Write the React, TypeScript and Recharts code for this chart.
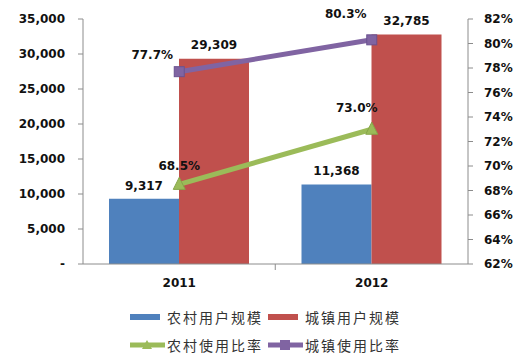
import { ComposedChart, Bar, Line, XAxis, YAxis, LabelList } from 'recharts';

const years = ['2011', '2012'];
const ruralUsers = [9317, 11368];
const urbanUsers = [29309, 32785];
const ruralRate = [68.5, 73.0];
const urbanRate = [77.7, 80.3];
const leftTicks = [0, 5000, 10000, 15000, 20000, 25000, 30000, 35000];
const rightTicks = [62, 64, 66, 68, 70, 72, 74, 76, 78, 80, 82];

const data = years.map((year, i) => ({
  year,
  rural: ruralUsers[i],
  urban: urbanUsers[i],
  ruralRate: ruralRate[i],
  urbanRate: urbanRate[i],
}));

const BLUE = '#4F81BD';
const RED = '#C0504D';
const GREEN = '#9BBB59';
const PURPLE = '#8064A2';
const AXIS = '#8c8c8c';
const FONT = '"DejaVu Sans", Verdana, sans-serif';

const fmtNum = (v: number) => (v === 0 ? '-' : v.toLocaleString('en-US'));

const lineLabel = (offsets: number[][]) => (props: any) => {
  const { x, y, value, index } = props;
  const [dx, dy] = offsets[index] || [0, -14];
  return (
    <text x={x + dx} y={y + dy} textAnchor="middle" fontFamily={FONT} fontSize={12} fontWeight="bold" fill="#111">
      {Number(value).toFixed(1)}%
    </text>
  );
};

const SquareDot = (props: any) => {
  const { cx, cy } = props;
  if (cx == null || cy == null) return null;
  return <rect x={cx - 5} y={cy - 5} width={10} height={10} fill={PURPLE} stroke="#6a5290" strokeWidth={1} />;
};

const TriangleDot = (props: any) => {
  const { cx, cy } = props;
  if (cx == null || cy == null) return null;
  return <polygon points={`${cx},${cy - 7} ${cx - 6},${cy + 5} ${cx + 6},${cy + 5}`} fill={GREEN} stroke="#86a548" strokeWidth={1} />;
};

const YearTick = (props: any) => {
  const { x, y, payload, index } = props;
  return (
    <g>
      {index === 0 && <line x1={x + 96} y1={y - 8} x2={x + 96} y2={y - 2} stroke={AXIS} />}
      <text x={x} y={y + 15} textAnchor="middle" fontFamily={FONT} fontSize={12} fontWeight="bold" fill="#111">
        {payload.value}
      </text>
    </g>
  );
};

const legendText = { fontFamily: '"Noto Sans CJK SC", sans-serif', fontSize: 14, letterSpacing: 2, color: '#333' };

const ChartLegend = () => (
  <div style={{ position: 'absolute', left: 130, top: 304, width: 300 }}>
    <div style={{ display: 'flex', alignItems: 'center', height: 26 }}>
      <div style={{ width: 30, height: 6, background: BLUE, marginRight: 7 }} />
      <span style={{ ...legendText, width: 101 }}>农村用户规模</span>
      <div style={{ width: 30, height: 6, background: RED, marginRight: 7 }} />
      <span style={legendText}>城镇用户规模</span>
    </div>
    <div style={{ display: 'flex', alignItems: 'center', height: 30 }}>
      <svg width={35} height={12} style={{ marginRight: 2 }}>
        <line x1={0} y1={6} x2={35} y2={6} stroke={GREEN} strokeWidth={5} />
        <polygon points="17,1 12,10 22,10" fill={GREEN} />
      </svg>
      <span style={{ ...legendText, width: 101 }}>农村使用比率</span>
      <svg width={35} height={12} style={{ marginRight: 2 }}>
        <line x1={0} y1={6} x2={35} y2={6} stroke={PURPLE} strokeWidth={5} />
        <rect x={12} y={1} width={10} height={10} fill={PURPLE} />
      </svg>
      <span style={legendText}>城镇使用比率</span>
    </div>
  </div>
);

export default function App() {
  return (
    <div style={{ position: 'absolute', left: 0, top: 0, width: 524, height: 364, background: '#fff' }}>
      <ComposedChart
        width={524}
        height={364}
        data={data}
        margin={{ top: 19, right: 0, left: 0, bottom: 70 }}
        barGap={0}
      >
        <XAxis
          dataKey="year"
          height={30}
          stroke={AXIS}
          tickLine={false}
          tick={<YearTick />}
        />
        <YAxis
          yAxisId="left"
          width={83}
          domain={[0, 35000]}
          ticks={leftTicks}
          tickFormatter={fmtNum}
          stroke={AXIS}
          tickSize={5}
          tickMargin={13}
          tick={{ fill: '#111', fontSize: 12, fontWeight: 'bold', fontFamily: FONT }}
          interval={0}
        />
        <YAxis
          yAxisId="right"
          orientation="right"
          width={56}
          domain={[62, 82]}
          ticks={rightTicks}
          tickFormatter={(v: number) => `${v}%`}
          stroke={AXIS}
          tickSize={5}
          tickMargin={11}
          tick={{ fill: '#111', fontSize: 12, fontWeight: 'bold', fontFamily: FONT }}
          interval={0}
        />
        <Bar yAxisId="left" dataKey="rural" fill={BLUE} barSize={70} isAnimationActive={false}>
          <LabelList dataKey="rural" position="top" offset={9} formatter={fmtNum} style={{ fontFamily: FONT, fontSize: 12, fontWeight: 'bold', fill: '#111' }} />
        </Bar>
        <Bar yAxisId="left" dataKey="urban" fill={RED} barSize={70} isAnimationActive={false}>
          <LabelList dataKey="urban" position="top" offset={10} formatter={fmtNum} style={{ fontFamily: FONT, fontSize: 12, fontWeight: 'bold', fill: '#111' }} />
        </Bar>
        <Line
          yAxisId="right"
          dataKey="ruralRate"
          stroke={GREEN}
          strokeWidth={5}
          dot={<TriangleDot />}
          isAnimationActive={false}
        >
          <LabelList dataKey="ruralRate" content={lineLabel([[0, -14], [-15, -17]])} />
        </Line>
        <Line
          yAxisId="right"
          dataKey="urbanRate"
          stroke={PURPLE}
          strokeWidth={5}
          dot={<SquareDot />}
          isAnimationActive={false}
        >
          <LabelList dataKey="urbanRate" content={lineLabel([[-27, -13], [-26, -22]])} />
        </Line>
      </ComposedChart>
      <ChartLegend />
    </div>
  );
}
